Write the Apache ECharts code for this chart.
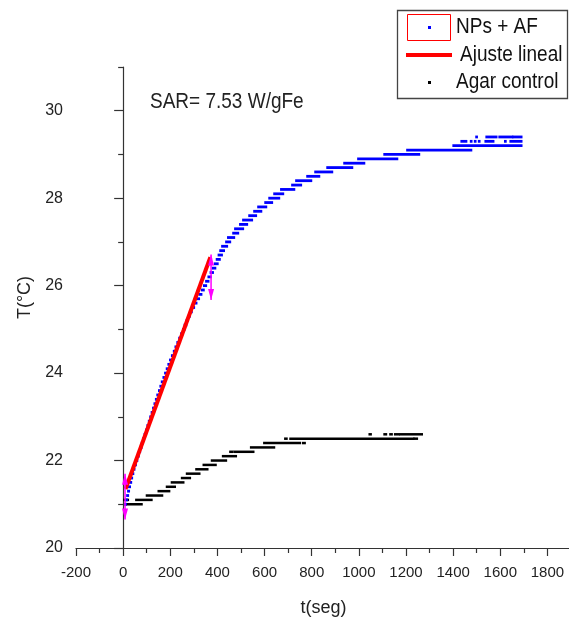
<!DOCTYPE html>
<html>
<head>
<meta charset="utf-8">
<script src="https://cdn.jsdelivr.net/npm/echarts@6/dist/echarts.min.js"></script>
<style>html,body{margin:0;padding:0;background:#fff;}#c{width:569px;height:620px;}</style>
</head>
<body>
<div id="c"></div>
<script>
// ---- data ----
// NPs + AF: plateaus [tStart, tEnd, T]
const blueSegments = [
  [8,12,21.0],[12,16,21.1],[17,21,21.2],[21,25,21.3],[25,29,21.4],[30,34,21.5],[34,38,21.6],[39,43,21.7],
  [44,48,21.8],[50,54,21.9],[56,60,22.0],[62,66,22.1],[68,72,22.2],[73,78,22.3],[79,83,22.4],[85,89,22.5],
  [91,95,22.6],[97,101,22.7],[103,107,22.8],[109,113,22.9],[115,119,23.0],[121,125,23.1],[127,131,23.2],
  [133,137,23.3],[139,144,23.4],[145,149,23.5],[152,156,23.6],[158,162,23.7],[164,168,23.8],[171,175,23.9],
  [178,182,24.0],[185,189,24.1],[192,196,24.2],[199,204,24.3],[207,212,24.4],[215,220,24.5],[222,228,24.6],
  [230,236,24.7],[238,244,24.8],[246,252,24.9],[254,260,25.0],[261,268,25.1],[269,275,25.2],[277,283,25.3],
  [284,291,25.4],[293,301,25.5],[303,311,25.6],[313,322,25.7],[324,332,25.8],[334,342,25.9],[343,352,26.0],
  [352,362,26.1],[362,372,26.2],[371,381,26.3],[380,391,26.4],[389,401,26.5],[397,410,26.6],[405,419,26.7],
  [412,428,26.8],[420,441,26.9],[437,454,27.0],[445,471,27.1],[467,488,27.2],[475,509,27.3],[496,526,27.4],
  [509,547,27.5],[535,564,27.6],[556,586,27.7],[573,607,27.8],[603,632,27.9],[620,662,28.0],[641,679,28.1],
  [670,726,28.2],[717,755,28.3],[734,798,28.4],[781,832,28.5],[815,887,28.6],[866,972,28.7],[938,1023,28.8],
  [997,1163,28.9],[1108,1256,29.0],[1205,1477,29.1],[1401,1690,29.2],
  [1435,1456,29.3],[1475,1478,29.3],[1492,1495,29.3],[1509,1512,29.3],[1537,1571,29.3],[1620,1623,29.3],[1643,1690,29.3],
  [1498,1501,29.4],[1541,1584,29.4],[1596,1651,29.4],[1655,1690,29.4]
];
// Agar control: plateaus [tStart, tEnd, T]
const controlSegments = [
  [8,79,21.0],[4,21,21.1],[55,121,21.1],[100,166,21.2],[150,196,21.3],[185,220,21.4],[206,256,21.5],
  [249,284,21.6],[270,324,21.7],[310,358,21.8],[341,393,21.9],[376,437,22.0],[423,479,22.1],[454,464,22.2],
  [472,553,22.2],[542,641,22.3],[598,751,22.4],[763,771,22.4],[687,694,22.5],[709,1232,22.5],[1235,1247,22.5],
  [1045,1051,22.6],[1108,1116,22.6],[1133,1140,22.6],[1153,1170,22.6],[1176,1268,22.6]
];
// Ajuste lineal
const fitLine = [[10,21.35],[370,26.65]];
// fit-range markers [t, Tlow, Thigh]
const fitMarkers = [[8,20.65,21.7],[373,25.67,26.71]];
// ticks
const xTicks = [-200,0,200,400,600,800,1000,1200,1400,1600,1800];
const xMinorTicks = [-100,100,300,500,700,900,1100,1300,1500,1700,1900];
const yTicks = [20,22,24,26,28,30];
const yMinorTicks = [21,23,25,27,29,31];
const sarText = 'SAR= 7.53 W/gFe';
const legendNames = ['NPs + AF','Ajuste lineal','Agar control'];

const FONT = 'Liberation Sans, Arial, sans-serif';
const axisCol = '#333';
const chart = echarts.init(document.getElementById('c'), null, {renderer:'canvas'});

function segRender(color, h) {
  return function (params, api) {
    const p0 = api.coord([api.value(0), api.value(2)]);
    const p1 = api.coord([api.value(1), api.value(2)]);
    return {
      type: 'rect',
      shape: {x: p0[0] - 1, y: p0[1] - h / 2, width: Math.max(p1[0] - p0[0] + 2, 2.5), height: h},
      style: {fill: color}
    };
  };
}
const plain = function (v) { return String(v); };

const option = {
  animation: false,
  backgroundColor: '#fff',
  grid: {left: 76, top: 67, width: 495, height: 481, containLabel: false, outerBoundsMode: 'none'},
  xAxis: [{
    type: 'value', min: -200, max: 1900,
    axisLine: {show: true, lineStyle: {color: axisCol, width: 1.2}},
    axisTick: {show: true, customValues: xTicks, length: 8, lineStyle: {color: axisCol, width: 1.2}},
    axisLabel: {customValues: xTicks, formatter: plain, fontSize: 15, color: '#222', margin: 17, fontFamily: FONT},
    splitLine: {show: false},
    name: 't(seg)', nameLocation: 'middle', nameGap: 51,
    nameTextStyle: {fontSize: 18, color: '#222', fontFamily: FONT}
  }, {
    type: 'value', min: -200, max: 1900, position: 'bottom',
    axisLine: {show: false},
    axisTick: {show: true, customValues: xMinorTicks, length: 5, lineStyle: {color: axisCol, width: 1.2}},
    axisLabel: {show: false}, splitLine: {show: false}
  }],
  yAxis: [{
    type: 'value', min: 20, max: 31,
    axisLine: {show: true, lineStyle: {color: axisCol, width: 1.2}},
    axisTick: {show: true, customValues: yTicks, length: 9, lineStyle: {color: axisCol, width: 1.2}},
    axisLabel: {customValues: yTicks, formatter: plain, fontSize: 16, color: '#222', margin: 13, fontFamily: FONT},
    splitLine: {show: false},
    name: 'T(°C)', nameLocation: 'middle', nameGap: 42,
    nameTextStyle: {fontSize: 18, color: '#222', fontFamily: FONT, padding: [0, 0, 0, 20]}
  }, {
    type: 'value', min: 20, max: 31, position: 'left',
    axisLine: {show: false},
    axisTick: {show: true, customValues: yMinorTicks, length: 5, lineStyle: {color: axisCol, width: 1.2}},
    axisLabel: {show: false}, splitLine: {show: false}
  }],
  series: [{
    name: legendNames[2], type: 'custom', xAxisIndex: 0, yAxisIndex: 0,
    renderItem: segRender('#000', 2.5),
    encode: {x: [0, 1], y: 2},
    data: controlSegments, z: 2
  }, {
    name: legendNames[0], type: 'custom', xAxisIndex: 0, yAxisIndex: 0,
    renderItem: segRender('#0000ff', 2.8),
    encode: {x: [0, 1], y: 2},
    data: blueSegments, z: 3
  }, {
    name: legendNames[1], type: 'line', xAxisIndex: 0, yAxisIndex: 0,
    data: fitLine, showSymbol: false, symbol: 'none',
    lineStyle: {color: '#ff0000', width: 4}, z: 4
  }, {
    name: 'markers', type: 'custom', xAxisIndex: 0, yAxisIndex: 0,
    encode: {x: 0, y: [1, 2]},
    data: fitMarkers, z: 5,
    renderItem: function (params, api) {
      const b = api.coord([api.value(0), api.value(1)]);
      const t = api.coord([api.value(0), api.value(2)]);
      const x = b[0];
      const c = '#ff00ff';
      return {
        type: 'group',
        children: [
          {type: 'line', shape: {x1: x, y1: b[1], x2: x, y2: t[1]}, style: {stroke: c, lineWidth: 1.5}},
          {type: 'polygon', shape: {points: [[x, t[1]], [x - 3, t[1] + 11], [x + 3, t[1] + 11]]}, style: {fill: c}},
          {type: 'polygon', shape: {points: [[x, b[1]], [x - 3, b[1] - 11], [x + 3, b[1] - 11]]}, style: {fill: c}}
        ]
      };
    }
  }],
  graphic: [
    {type: 'text', x: 150, y: 102, scaleY: 1.18, originX: 0, originY: 0,
     style: {text: sarText, font: '19px ' + FONT, fill: '#222', verticalAlign: 'middle', align: 'left'}},
    {type: 'rect', shape: {x: 397.5, y: 10.5, width: 170, height: 88},
     style: {fill: '#fff', stroke: '#444', lineWidth: 1.3}},
    {type: 'rect', shape: {x: 407.5, y: 14.5, width: 43, height: 26},
     style: {fill: 'none', stroke: '#ff0000', lineWidth: 1}},
    {type: 'rect', shape: {x: 428, y: 26, width: 3, height: 3}, style: {fill: '#0000ff'}},
    {type: 'line', shape: {x1: 406, y1: 55, x2: 452, y2: 55}, style: {stroke: '#ff0000', lineWidth: 4}},
    {type: 'rect', shape: {x: 428, y: 81, width: 3, height: 3}, style: {fill: '#000'}},
    {type: 'text', x: 456, y: 27, scaleY: 1.15, style: {text: legendNames[0], font: '19px ' + FONT, fill: '#111', verticalAlign: 'middle'}},
    {type: 'text', x: 460, y: 55, scaleY: 1.15, style: {text: legendNames[1], font: '19px ' + FONT, fill: '#111', verticalAlign: 'middle'}},
    {type: 'text', x: 456, y: 82, scaleY: 1.15, style: {text: legendNames[2], font: '19px ' + FONT, fill: '#111', verticalAlign: 'middle'}}
  ]
};
chart.setOption(option);
</script>
</body>
</html>
